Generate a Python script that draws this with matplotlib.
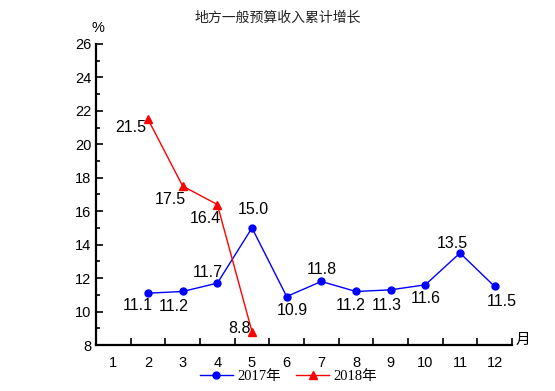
import matplotlib.pyplot as plt
from matplotlib.ticker import MultipleLocator, FixedLocator

months = list(range(1, 13))
m2017 = [2, 3, 4, 5, 6, 7, 8, 9, 10, 11, 12]
v2017 = [11.1, 11.2, 11.7, 15.0, 10.9, 11.8, 11.2, 11.3, 11.6, 13.5, 11.5]
m2018 = [2, 3, 4, 5]
v2018 = [21.5, 17.5, 16.4, 8.8]

# label offsets in pixels (dx, dy down)
off2017 = [(-10, 12), (-9, 15), (-10, -11), (1, -18), (6, 14), (0, -12),
           (-5, 14), (-4, 16), (0, 14), (-8, -10), (7, 15)]
off2018 = [(-17, 8), (-12, 13), (-12, 14), (-13, -3)]

plt.rcParams['font.family'] = ['Liberation Sans', 'Noto Sans CJK SC']

fig = plt.figure(figsize=(5.55, 3.91), dpi=100)
ax = fig.add_axes([0.173, 0.1176, 0.7495, 0.77])

ax.plot(m2017, v2017, color='#0000ff', lw=1, marker='o', ms=5, label='2017年')
ax.plot(m2018, v2018, color='#ff0000', lw=1, marker='^', ms=5.5, label='2018年')

px = 0.72
for x, y, (dx, dy) in zip(m2017, v2017, off2017):
    ax.annotate(f'{y:.1f}', (x, y), xytext=(dx * px, -dy * px), textcoords='offset points',
                ha='center', va='center', fontsize=11.5)
for x, y, (dx, dy) in zip(m2018, v2018, off2018):
    ax.annotate(f'{y:.1f}', (x, y), xytext=(dx * px, -dy * px), textcoords='offset points',
                ha='center', va='center', fontsize=11.5)

ax.set_xlim(0.5, 12.5)
ax.set_ylim(8, 26)
ax.yaxis.set_major_locator(MultipleLocator(2))
ax.yaxis.set_minor_locator(MultipleLocator(1))
ax.xaxis.set_major_locator(FixedLocator([m + 0.5 for m in range(0, 13)]))
ax.set_xticklabels([])
ax.set_xticks(months, minor=True)
ax.set_xticklabels([str(m) for m in months], minor=True)
ax.tick_params(axis='x', which='minor', length=0, labelsize=10.5, pad=8)
ax.tick_params(axis='x', which='major', direction='in', length=5, width=1.2)
ax.tick_params(axis='y', which='major', direction='in', length=5, width=1.2, labelsize=10.5)
ax.tick_params(axis='y', which='minor', direction='in', length=3, width=1.2)

for s in ['top', 'right']:
    ax.spines[s].set_visible(False)
for s in ['left', 'bottom']:
    ax.spines[s].set_linewidth(1.6)

fig.text(0.177, 0.928, '%', fontsize=10.5, ha='center', va='center')
fig.text(0.942, 0.131, '月', fontsize=10.5, ha='center', va='center')
fig.text(0.5, 0.955, '地方一般预算收入累计增长', fontsize=10, ha='center', va='center',
         color='#222222', family=['Noto Sans CJK SC'])

fig.legend(loc='center', bbox_to_anchor=(0.52, 0.038), ncol=2, frameon=False,
           prop={'family': ['Liberation Serif', 'Noto Sans CJK SC'], 'size': 10.5},
           handlelength=2.3, columnspacing=1.0, handletextpad=0.3)

fig.savefig('out.png', dpi=100)
